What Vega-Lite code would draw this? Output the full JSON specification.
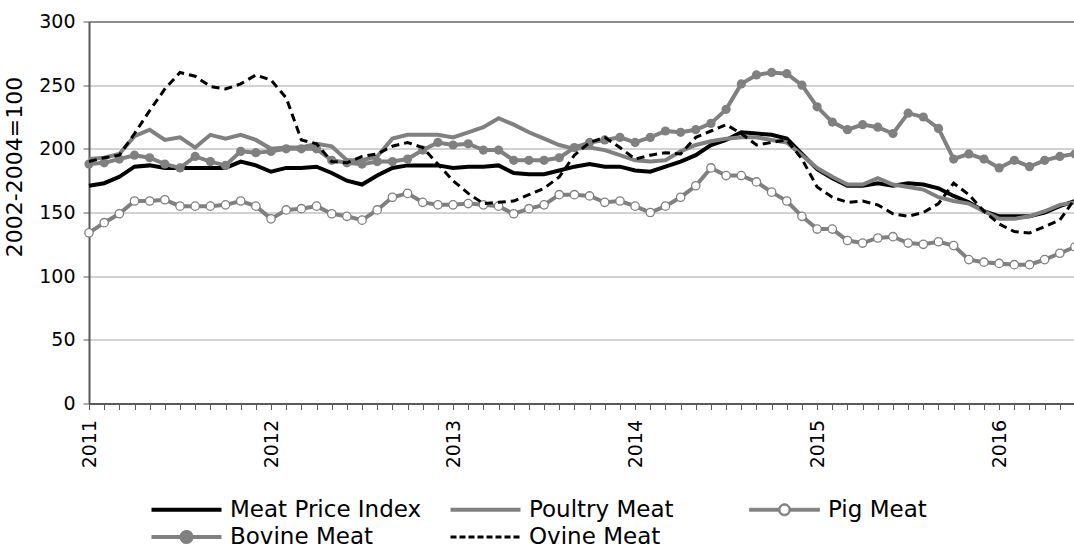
{
"$schema": "https://vega.github.io/schema/vega-lite/v6.json",
"width": 986, "height": 382,
"autosize": {"type": "none"},
"padding": {"left": 89, "top": 21.5, "right": 0, "bottom": 148},
"background": "white",
"config": {"view": {"stroke": null}, "font": "DejaVu Sans"},
"data": {"values": [
{"m":"2011-01","s":"Meat Price Index","v":171},{"m":"2011-02","s":"Meat Price Index","v":173},{"m":"2011-03","s":"Meat Price Index","v":178},{"m":"2011-04","s":"Meat Price Index","v":186},{"m":"2011-05","s":"Meat Price Index","v":187},{"m":"2011-06","s":"Meat Price Index","v":185},{"m":"2011-07","s":"Meat Price Index","v":185},{"m":"2011-08","s":"Meat Price Index","v":185},{"m":"2011-09","s":"Meat Price Index","v":185},{"m":"2011-10","s":"Meat Price Index","v":185},{"m":"2011-11","s":"Meat Price Index","v":190},{"m":"2011-12","s":"Meat Price Index","v":187},
{"m":"2012-01","s":"Meat Price Index","v":182},{"m":"2012-02","s":"Meat Price Index","v":185},{"m":"2012-03","s":"Meat Price Index","v":185},{"m":"2012-04","s":"Meat Price Index","v":186},{"m":"2012-05","s":"Meat Price Index","v":181},{"m":"2012-06","s":"Meat Price Index","v":175},{"m":"2012-07","s":"Meat Price Index","v":172},{"m":"2012-08","s":"Meat Price Index","v":179},{"m":"2012-09","s":"Meat Price Index","v":185},{"m":"2012-10","s":"Meat Price Index","v":187},{"m":"2012-11","s":"Meat Price Index","v":187},{"m":"2012-12","s":"Meat Price Index","v":187},
{"m":"2013-01","s":"Meat Price Index","v":185},{"m":"2013-02","s":"Meat Price Index","v":186},{"m":"2013-03","s":"Meat Price Index","v":186},{"m":"2013-04","s":"Meat Price Index","v":187},{"m":"2013-05","s":"Meat Price Index","v":181},{"m":"2013-06","s":"Meat Price Index","v":180},{"m":"2013-07","s":"Meat Price Index","v":180},{"m":"2013-08","s":"Meat Price Index","v":183},{"m":"2013-09","s":"Meat Price Index","v":186},{"m":"2013-10","s":"Meat Price Index","v":188},{"m":"2013-11","s":"Meat Price Index","v":186},{"m":"2013-12","s":"Meat Price Index","v":186},
{"m":"2014-01","s":"Meat Price Index","v":183},{"m":"2014-02","s":"Meat Price Index","v":182},{"m":"2014-03","s":"Meat Price Index","v":186},{"m":"2014-04","s":"Meat Price Index","v":190},{"m":"2014-05","s":"Meat Price Index","v":195},{"m":"2014-06","s":"Meat Price Index","v":203},{"m":"2014-07","s":"Meat Price Index","v":207},{"m":"2014-08","s":"Meat Price Index","v":213},{"m":"2014-09","s":"Meat Price Index","v":212},{"m":"2014-10","s":"Meat Price Index","v":211},{"m":"2014-11","s":"Meat Price Index","v":208},{"m":"2014-12","s":"Meat Price Index","v":196},
{"m":"2015-01","s":"Meat Price Index","v":184},{"m":"2015-02","s":"Meat Price Index","v":177},{"m":"2015-03","s":"Meat Price Index","v":171},{"m":"2015-04","s":"Meat Price Index","v":171},{"m":"2015-05","s":"Meat Price Index","v":173},{"m":"2015-06","s":"Meat Price Index","v":171},{"m":"2015-07","s":"Meat Price Index","v":173},{"m":"2015-08","s":"Meat Price Index","v":172},{"m":"2015-09","s":"Meat Price Index","v":169},{"m":"2015-10","s":"Meat Price Index","v":163},{"m":"2015-11","s":"Meat Price Index","v":158},{"m":"2015-12","s":"Meat Price Index","v":151},
{"m":"2016-01","s":"Meat Price Index","v":147},{"m":"2016-02","s":"Meat Price Index","v":147},{"m":"2016-03","s":"Meat Price Index","v":147},{"m":"2016-04","s":"Meat Price Index","v":150},{"m":"2016-05","s":"Meat Price Index","v":155},{"m":"2016-06","s":"Meat Price Index","v":159},
{"m":"2011-01","s":"Poultry Meat","v":192},{"m":"2011-02","s":"Poultry Meat","v":193},{"m":"2011-03","s":"Poultry Meat","v":196},{"m":"2011-04","s":"Poultry Meat","v":210},{"m":"2011-05","s":"Poultry Meat","v":215},{"m":"2011-06","s":"Poultry Meat","v":207},{"m":"2011-07","s":"Poultry Meat","v":209},{"m":"2011-08","s":"Poultry Meat","v":201},{"m":"2011-09","s":"Poultry Meat","v":211},{"m":"2011-10","s":"Poultry Meat","v":208},{"m":"2011-11","s":"Poultry Meat","v":211},{"m":"2011-12","s":"Poultry Meat","v":207},
{"m":"2012-01","s":"Poultry Meat","v":200},{"m":"2012-02","s":"Poultry Meat","v":201},{"m":"2012-03","s":"Poultry Meat","v":201},{"m":"2012-04","s":"Poultry Meat","v":204},{"m":"2012-05","s":"Poultry Meat","v":202},{"m":"2012-06","s":"Poultry Meat","v":191},{"m":"2012-07","s":"Poultry Meat","v":191},{"m":"2012-08","s":"Poultry Meat","v":194},{"m":"2012-09","s":"Poultry Meat","v":208},{"m":"2012-10","s":"Poultry Meat","v":211},{"m":"2012-11","s":"Poultry Meat","v":211},{"m":"2012-12","s":"Poultry Meat","v":211},
{"m":"2013-01","s":"Poultry Meat","v":209},{"m":"2013-02","s":"Poultry Meat","v":213},{"m":"2013-03","s":"Poultry Meat","v":217},{"m":"2013-04","s":"Poultry Meat","v":224},{"m":"2013-05","s":"Poultry Meat","v":219},{"m":"2013-06","s":"Poultry Meat","v":213},{"m":"2013-07","s":"Poultry Meat","v":208},{"m":"2013-08","s":"Poultry Meat","v":203},{"m":"2013-09","s":"Poultry Meat","v":200},{"m":"2013-10","s":"Poultry Meat","v":201},{"m":"2013-11","s":"Poultry Meat","v":199},{"m":"2013-12","s":"Poultry Meat","v":195},
{"m":"2014-01","s":"Poultry Meat","v":191},{"m":"2014-02","s":"Poultry Meat","v":190},{"m":"2014-03","s":"Poultry Meat","v":191},{"m":"2014-04","s":"Poultry Meat","v":198},{"m":"2014-05","s":"Poultry Meat","v":203},{"m":"2014-06","s":"Poultry Meat","v":206},{"m":"2014-07","s":"Poultry Meat","v":208},{"m":"2014-08","s":"Poultry Meat","v":209},{"m":"2014-09","s":"Poultry Meat","v":209},{"m":"2014-10","s":"Poultry Meat","v":207},{"m":"2014-11","s":"Poultry Meat","v":205},{"m":"2014-12","s":"Poultry Meat","v":195},
{"m":"2015-01","s":"Poultry Meat","v":185},{"m":"2015-02","s":"Poultry Meat","v":178},{"m":"2015-03","s":"Poultry Meat","v":172},{"m":"2015-04","s":"Poultry Meat","v":172},{"m":"2015-05","s":"Poultry Meat","v":177},{"m":"2015-06","s":"Poultry Meat","v":172},{"m":"2015-07","s":"Poultry Meat","v":170},{"m":"2015-08","s":"Poultry Meat","v":168},{"m":"2015-09","s":"Poultry Meat","v":162},{"m":"2015-10","s":"Poultry Meat","v":159},{"m":"2015-11","s":"Poultry Meat","v":157},{"m":"2015-12","s":"Poultry Meat","v":151},
{"m":"2016-01","s":"Poultry Meat","v":145},{"m":"2016-02","s":"Poultry Meat","v":145},{"m":"2016-03","s":"Poultry Meat","v":147},{"m":"2016-04","s":"Poultry Meat","v":151},{"m":"2016-05","s":"Poultry Meat","v":156},{"m":"2016-06","s":"Poultry Meat","v":158},
{"m":"2011-01","s":"Pig Meat","v":134},{"m":"2011-02","s":"Pig Meat","v":142},{"m":"2011-03","s":"Pig Meat","v":149},{"m":"2011-04","s":"Pig Meat","v":159},{"m":"2011-05","s":"Pig Meat","v":159},{"m":"2011-06","s":"Pig Meat","v":160},{"m":"2011-07","s":"Pig Meat","v":155},{"m":"2011-08","s":"Pig Meat","v":155},{"m":"2011-09","s":"Pig Meat","v":155},{"m":"2011-10","s":"Pig Meat","v":156},{"m":"2011-11","s":"Pig Meat","v":159},{"m":"2011-12","s":"Pig Meat","v":155},
{"m":"2012-01","s":"Pig Meat","v":145},{"m":"2012-02","s":"Pig Meat","v":152},{"m":"2012-03","s":"Pig Meat","v":153},{"m":"2012-04","s":"Pig Meat","v":155},{"m":"2012-05","s":"Pig Meat","v":149},{"m":"2012-06","s":"Pig Meat","v":147},{"m":"2012-07","s":"Pig Meat","v":144},{"m":"2012-08","s":"Pig Meat","v":152},{"m":"2012-09","s":"Pig Meat","v":162},{"m":"2012-10","s":"Pig Meat","v":165},{"m":"2012-11","s":"Pig Meat","v":158},{"m":"2012-12","s":"Pig Meat","v":156},
{"m":"2013-01","s":"Pig Meat","v":156},{"m":"2013-02","s":"Pig Meat","v":157},{"m":"2013-03","s":"Pig Meat","v":156},{"m":"2013-04","s":"Pig Meat","v":155},{"m":"2013-05","s":"Pig Meat","v":149},{"m":"2013-06","s":"Pig Meat","v":153},{"m":"2013-07","s":"Pig Meat","v":156},{"m":"2013-08","s":"Pig Meat","v":164},{"m":"2013-09","s":"Pig Meat","v":164},{"m":"2013-10","s":"Pig Meat","v":163},{"m":"2013-11","s":"Pig Meat","v":158},{"m":"2013-12","s":"Pig Meat","v":159},
{"m":"2014-01","s":"Pig Meat","v":155},{"m":"2014-02","s":"Pig Meat","v":150},{"m":"2014-03","s":"Pig Meat","v":155},{"m":"2014-04","s":"Pig Meat","v":162},{"m":"2014-05","s":"Pig Meat","v":171},{"m":"2014-06","s":"Pig Meat","v":185},{"m":"2014-07","s":"Pig Meat","v":179},{"m":"2014-08","s":"Pig Meat","v":179},{"m":"2014-09","s":"Pig Meat","v":174},{"m":"2014-10","s":"Pig Meat","v":166},{"m":"2014-11","s":"Pig Meat","v":159},{"m":"2014-12","s":"Pig Meat","v":147},
{"m":"2015-01","s":"Pig Meat","v":137},{"m":"2015-02","s":"Pig Meat","v":137},{"m":"2015-03","s":"Pig Meat","v":128},{"m":"2015-04","s":"Pig Meat","v":126},{"m":"2015-05","s":"Pig Meat","v":130},{"m":"2015-06","s":"Pig Meat","v":131},{"m":"2015-07","s":"Pig Meat","v":126},{"m":"2015-08","s":"Pig Meat","v":125},{"m":"2015-09","s":"Pig Meat","v":127},{"m":"2015-10","s":"Pig Meat","v":124},{"m":"2015-11","s":"Pig Meat","v":113},{"m":"2015-12","s":"Pig Meat","v":111},
{"m":"2016-01","s":"Pig Meat","v":110},{"m":"2016-02","s":"Pig Meat","v":109},{"m":"2016-03","s":"Pig Meat","v":109},{"m":"2016-04","s":"Pig Meat","v":113},{"m":"2016-05","s":"Pig Meat","v":118},{"m":"2016-06","s":"Pig Meat","v":123},
{"m":"2011-01","s":"Bovine Meat","v":188},{"m":"2011-02","s":"Bovine Meat","v":189},{"m":"2011-03","s":"Bovine Meat","v":192},{"m":"2011-04","s":"Bovine Meat","v":195},{"m":"2011-05","s":"Bovine Meat","v":193},{"m":"2011-06","s":"Bovine Meat","v":188},{"m":"2011-07","s":"Bovine Meat","v":185},{"m":"2011-08","s":"Bovine Meat","v":194},{"m":"2011-09","s":"Bovine Meat","v":190},{"m":"2011-10","s":"Bovine Meat","v":187},{"m":"2011-11","s":"Bovine Meat","v":198},{"m":"2011-12","s":"Bovine Meat","v":197},
{"m":"2012-01","s":"Bovine Meat","v":198},{"m":"2012-02","s":"Bovine Meat","v":200},{"m":"2012-03","s":"Bovine Meat","v":200},{"m":"2012-04","s":"Bovine Meat","v":200},{"m":"2012-05","s":"Bovine Meat","v":191},{"m":"2012-06","s":"Bovine Meat","v":189},{"m":"2012-07","s":"Bovine Meat","v":188},{"m":"2012-08","s":"Bovine Meat","v":190},{"m":"2012-09","s":"Bovine Meat","v":190},{"m":"2012-10","s":"Bovine Meat","v":192},{"m":"2012-11","s":"Bovine Meat","v":199},{"m":"2012-12","s":"Bovine Meat","v":205},
{"m":"2013-01","s":"Bovine Meat","v":203},{"m":"2013-02","s":"Bovine Meat","v":204},{"m":"2013-03","s":"Bovine Meat","v":199},{"m":"2013-04","s":"Bovine Meat","v":199},{"m":"2013-05","s":"Bovine Meat","v":191},{"m":"2013-06","s":"Bovine Meat","v":191},{"m":"2013-07","s":"Bovine Meat","v":191},{"m":"2013-08","s":"Bovine Meat","v":193},{"m":"2013-09","s":"Bovine Meat","v":201},{"m":"2013-10","s":"Bovine Meat","v":205},{"m":"2013-11","s":"Bovine Meat","v":207},{"m":"2013-12","s":"Bovine Meat","v":209},
{"m":"2014-01","s":"Bovine Meat","v":205},{"m":"2014-02","s":"Bovine Meat","v":209},{"m":"2014-03","s":"Bovine Meat","v":214},{"m":"2014-04","s":"Bovine Meat","v":213},{"m":"2014-05","s":"Bovine Meat","v":215},{"m":"2014-06","s":"Bovine Meat","v":220},{"m":"2014-07","s":"Bovine Meat","v":231},{"m":"2014-08","s":"Bovine Meat","v":251},{"m":"2014-09","s":"Bovine Meat","v":258},{"m":"2014-10","s":"Bovine Meat","v":260},{"m":"2014-11","s":"Bovine Meat","v":259},{"m":"2014-12","s":"Bovine Meat","v":250},
{"m":"2015-01","s":"Bovine Meat","v":233},{"m":"2015-02","s":"Bovine Meat","v":221},{"m":"2015-03","s":"Bovine Meat","v":215},{"m":"2015-04","s":"Bovine Meat","v":219},{"m":"2015-05","s":"Bovine Meat","v":217},{"m":"2015-06","s":"Bovine Meat","v":212},{"m":"2015-07","s":"Bovine Meat","v":228},{"m":"2015-08","s":"Bovine Meat","v":225},{"m":"2015-09","s":"Bovine Meat","v":216},{"m":"2015-10","s":"Bovine Meat","v":192},{"m":"2015-11","s":"Bovine Meat","v":196},{"m":"2015-12","s":"Bovine Meat","v":192},
{"m":"2016-01","s":"Bovine Meat","v":185},{"m":"2016-02","s":"Bovine Meat","v":191},{"m":"2016-03","s":"Bovine Meat","v":186},{"m":"2016-04","s":"Bovine Meat","v":191},{"m":"2016-05","s":"Bovine Meat","v":194},{"m":"2016-06","s":"Bovine Meat","v":196},
{"m":"2011-01","s":"Ovine Meat","v":190},{"m":"2011-02","s":"Ovine Meat","v":193},{"m":"2011-03","s":"Ovine Meat","v":195},{"m":"2011-04","s":"Ovine Meat","v":212},{"m":"2011-05","s":"Ovine Meat","v":230},{"m":"2011-06","s":"Ovine Meat","v":247},{"m":"2011-07","s":"Ovine Meat","v":260},{"m":"2011-08","s":"Ovine Meat","v":257},{"m":"2011-09","s":"Ovine Meat","v":249},{"m":"2011-10","s":"Ovine Meat","v":247},{"m":"2011-11","s":"Ovine Meat","v":251},{"m":"2011-12","s":"Ovine Meat","v":258},
{"m":"2012-01","s":"Ovine Meat","v":254},{"m":"2012-02","s":"Ovine Meat","v":240},{"m":"2012-03","s":"Ovine Meat","v":207},{"m":"2012-04","s":"Ovine Meat","v":204},{"m":"2012-05","s":"Ovine Meat","v":190},{"m":"2012-06","s":"Ovine Meat","v":189},{"m":"2012-07","s":"Ovine Meat","v":194},{"m":"2012-08","s":"Ovine Meat","v":196},{"m":"2012-09","s":"Ovine Meat","v":202},{"m":"2012-10","s":"Ovine Meat","v":205},{"m":"2012-11","s":"Ovine Meat","v":201},{"m":"2012-12","s":"Ovine Meat","v":188},
{"m":"2013-01","s":"Ovine Meat","v":175},{"m":"2013-02","s":"Ovine Meat","v":165},{"m":"2013-03","s":"Ovine Meat","v":157},{"m":"2013-04","s":"Ovine Meat","v":158},{"m":"2013-05","s":"Ovine Meat","v":159},{"m":"2013-06","s":"Ovine Meat","v":164},{"m":"2013-07","s":"Ovine Meat","v":169},{"m":"2013-08","s":"Ovine Meat","v":178},{"m":"2013-09","s":"Ovine Meat","v":195},{"m":"2013-10","s":"Ovine Meat","v":205},{"m":"2013-11","s":"Ovine Meat","v":209},{"m":"2013-12","s":"Ovine Meat","v":201},
{"m":"2014-01","s":"Ovine Meat","v":192},{"m":"2014-02","s":"Ovine Meat","v":195},{"m":"2014-03","s":"Ovine Meat","v":197},{"m":"2014-04","s":"Ovine Meat","v":196},{"m":"2014-05","s":"Ovine Meat","v":209},{"m":"2014-06","s":"Ovine Meat","v":214},{"m":"2014-07","s":"Ovine Meat","v":219},{"m":"2014-08","s":"Ovine Meat","v":212},{"m":"2014-09","s":"Ovine Meat","v":203},{"m":"2014-10","s":"Ovine Meat","v":205},{"m":"2014-11","s":"Ovine Meat","v":207},{"m":"2014-12","s":"Ovine Meat","v":192},
{"m":"2015-01","s":"Ovine Meat","v":170},{"m":"2015-02","s":"Ovine Meat","v":162},{"m":"2015-03","s":"Ovine Meat","v":158},{"m":"2015-04","s":"Ovine Meat","v":159},{"m":"2015-05","s":"Ovine Meat","v":156},{"m":"2015-06","s":"Ovine Meat","v":149},{"m":"2015-07","s":"Ovine Meat","v":147},{"m":"2015-08","s":"Ovine Meat","v":150},{"m":"2015-09","s":"Ovine Meat","v":157},{"m":"2015-10","s":"Ovine Meat","v":173},{"m":"2015-11","s":"Ovine Meat","v":164},{"m":"2015-12","s":"Ovine Meat","v":151},
{"m":"2016-01","s":"Ovine Meat","v":141},{"m":"2016-02","s":"Ovine Meat","v":135},{"m":"2016-03","s":"Ovine Meat","v":134},{"m":"2016-04","s":"Ovine Meat","v":139},{"m":"2016-05","s":"Ovine Meat","v":144},{"m":"2016-06","s":"Ovine Meat","v":161}
]},
"encoding": {
  "x": {"field": "m", "type": "ordinal", "scale": {"type": "point", "padding": 0},
        "axis": {"title": null, "labelAngle": 270, "labelAlign": "right", "labelBaseline": "middle",
                 "labelExpr": "slice(datum.value,5)=='01' ? slice(datum.value,0,4) : ''",
                 "labelOverlap": false, "labelFont": "DejaVu Sans", "labelFontSize": 19, "labelColor": "#000000", "labelPadding": 10,
                 "tickSize": 6, "tickColor": "#595959", "tickWidth": 1, "domainColor": "#595959", "domainWidth": 2, "grid": false}},
  "y": {"field": "v", "type": "quantitative", "scale": {"domain": [0, 300], "nice": false, "zero": true},
        "axis": {"title": "2002-2004=100", "values": [0,50,100,150,200,250,300], "grid": true,
                 "gridColor": {"expr": "datum.value == 300 ? '#8c8c8c' : '#a6a6a6'"},
                 "gridWidth": {"expr": "datum.value == 300 ? 2 : 1"},
                 "domainColor": "#595959", "domainWidth": 2, "tickSize": 6, "tickColor": "#595959",
                 "labelFont": "DejaVu Sans", "labelFontSize": 19, "labelColor": "#000000", "labelPadding": 8,
                 "titleFont": "DejaVu Sans", "titleFontSize": 22, "titleFontWeight": "normal", "titleColor": "#000000",
                 "titlePadding": 12, "titleY": 145}},
  "color": {"field": "s", "type": "nominal",
            "scale": {"domain": ["Meat Price Index", "Poultry Meat", "Pig Meat", "Bovine Meat", "Ovine Meat"],
                      "range": ["#000000", "#808080", "#808080", "#808080", "#000000"]},
            "legend": {"title": null, "orient": "none", "legendX": 86, "legendY": 476, "direction": "horizontal",
                       "columns": 3, "gridAlign": "all", "columnPadding": 20, "rowPadding": 1,
                       "symbolSize": 400, "symbolType": "M-3.5,0L3.5,0", "symbolStrokeWidth": 4, "labelOffset": 32,
                       "labelFont": "DejaVu Sans", "labelFontSize": 23, "labelColor": "#000000", "labelLimit": 400,
                       "encode": {"symbols": {"update": {
                          "shape": {"signal": "datum.value==='Pig Meat' ? 'M-3.5,-0.15L-0.6,-0.15L-0.6,0.15L-3.5,0.15Z M0.6,-0.15L3.5,-0.15L3.5,0.15L0.6,0.15Z M-0.6,0A0.6,0.6 0 1 1 0.6,0A0.6,0.6 0 1 1 -0.6,0Z M-0.45,0A0.45,0.45 0 1 0 0.45,0A0.45,0.45 0 1 0 -0.45,0Z' : (datum.value==='Bovine Meat' ? 'M-3.5,0L-0.5,0M0.5,0L3.5,0M-0.5,0A0.5,0.5 0 1 1 0.5,0A0.5,0.5 0 1 1 -0.5,0Z' : 'M-3.5,0L3.5,0')"},
                          "fill": {"signal": "datum.value==='Pig Meat'||datum.value==='Bovine Meat' ? '#808080' : 'transparent'"},
                          "strokeDash": {"signal": "datum.value==='Ovine Meat' ? [6,3] : [1,0]"},
                          "strokeWidth": {"signal": "datum.value==='Ovine Meat' ? 3 : (datum.value==='Pig Meat' ? 1 : 4)"}
                       }}}}}
},
"layer": [
  {"transform": [{"filter": "datum.s==='Meat Price Index'"}], "mark": {"type": "line", "strokeWidth": 4}},
  {"transform": [{"filter": "datum.s==='Poultry Meat'"}], "mark": {"type": "line", "strokeWidth": 4}},
  {"transform": [{"filter": "datum.s==='Pig Meat'"}], "mark": {"type": "line", "strokeWidth": 4, "point": {"filled": false, "fill": "#ffffff", "size": 70, "strokeWidth": 1.3, "opacity": 1}}},
  {"transform": [{"filter": "datum.s==='Bovine Meat'"}], "mark": {"type": "line", "strokeWidth": 4, "point": {"filled": true, "size": 85, "opacity": 1}}},
  {"transform": [{"filter": "datum.s==='Ovine Meat'"}], "mark": {"type": "line", "strokeWidth": 3, "strokeDash": [8, 5]}}
]
}
